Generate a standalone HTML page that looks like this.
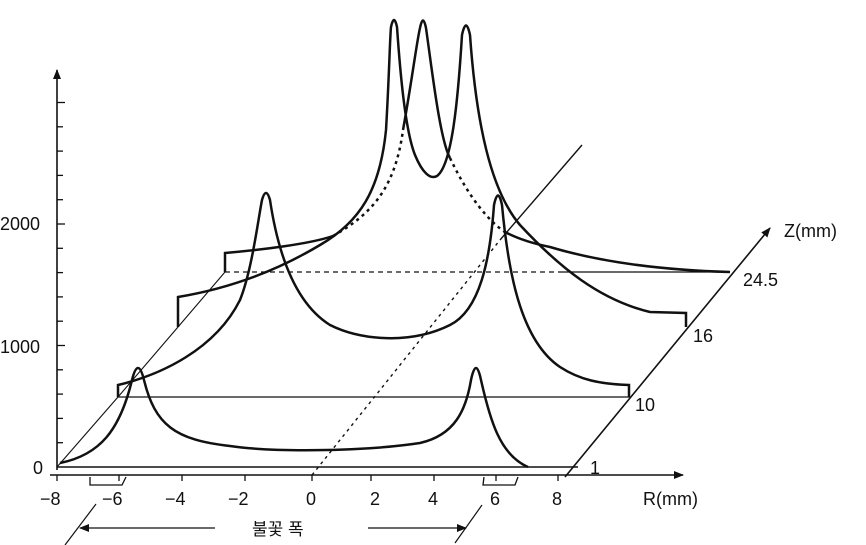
<!DOCTYPE html>
<html><head><meta charset="utf-8"><style>
html,body{margin:0;padding:0;background:#fff;}
svg{display:block;}
text{font-family:"Liberation Sans","Noto Sans CJK KR",sans-serif;fill:#111;}
</style></head><body>
<svg width="866" height="545" viewBox="0 0 866 545" xmlns="http://www.w3.org/2000/svg">
<defs>
<marker id="ar" markerWidth="10" markerHeight="8" refX="9" refY="4" orient="auto" markerUnits="userSpaceOnUse">
<path d="M0,0 L10,4 L0,8 Z" fill="#111"/></marker>
</defs>
<g stroke="#111" fill="none">
<line x1="57" y1="470" x2="57" y2="70" stroke-width="1.6" marker-end="url(#ar)"/>
<g stroke-width="1.3">
<line x1="57" y1="442.7" x2="63" y2="442.7"/><line x1="57" y1="418.4" x2="63" y2="418.4"/>
<line x1="57" y1="394.1" x2="63" y2="394.1"/><line x1="57" y1="369.8" x2="63" y2="369.8"/>
<line x1="57" y1="345.5" x2="65" y2="345.5"/><line x1="57" y1="321.2" x2="63" y2="321.2"/>
<line x1="57" y1="296.9" x2="63" y2="296.9"/><line x1="57" y1="272.6" x2="63" y2="272.6"/>
<line x1="57" y1="248.3" x2="63" y2="248.3"/><line x1="57" y1="224" x2="65" y2="224"/>
<line x1="57" y1="199.7" x2="63" y2="199.7"/><line x1="57" y1="175.4" x2="63" y2="175.4"/>
<line x1="57" y1="151.1" x2="63" y2="151.1"/><line x1="57" y1="126.8" x2="63" y2="126.8"/>
<line x1="57" y1="102.5" x2="65" y2="102.5"/>
</g>
<line x1="50" y1="475" x2="683" y2="475" stroke-width="1.6" marker-end="url(#ar)"/>
<g stroke-width="1.3">
<line x1="57" y1="475" x2="57" y2="481"/><line x1="119" y1="475" x2="119" y2="481"/>
<line x1="182" y1="475" x2="182" y2="481"/><line x1="245" y1="475" x2="245" y2="481"/>
<line x1="312" y1="475" x2="312" y2="481"/><line x1="371" y1="475" x2="371" y2="481"/>
<line x1="434" y1="475" x2="434" y2="481"/><line x1="496" y1="475" x2="496" y2="481"/>
<line x1="558" y1="475" x2="558" y2="481"/>
</g>
<path d="M90,477 L90,485 L122,485 L126,477" stroke-width="1.3"/>
<path d="M484,477 L483,485 L515,485 L518,477" stroke-width="1.3"/>
<line x1="565" y1="477" x2="770" y2="228" stroke-width="1.6" marker-end="url(#ar)"/>
<polyline points="57,467 118,397 178,327 225,272" stroke-width="1.1"/>
<line x1="312" y1="475" x2="500" y2="240" stroke-width="1.4" stroke-dasharray="3,4"/>
<line x1="500" y1="240" x2="582" y2="145" stroke-width="1.4"/>
<line x1="57" y1="467" x2="578" y2="467" stroke-width="1.4"/>
<line x1="118" y1="397" x2="630" y2="397" stroke-width="1.3"/>
<line x1="225" y1="272" x2="560" y2="272" stroke-width="1.3" stroke-dasharray="5,4"/>
<line x1="560" y1="272" x2="730" y2="272" stroke-width="1.3"/>
<path stroke-width="2.5" d="M60,463 C100,455 120,430 132,380 Q138,356 144,380 C155,425 175,440 230,446 C270,452 360,452 420,443 C455,435 466,410 471,380 Q476,356 481,380 C490,420 500,455 528,467"/>
<path stroke-width="2.5" d="M118,397 L118,385 C160,375 215,350 240,300 C252,270 258,220 262,200 Q266,186 270,200 C276,240 290,300 330,325 C360,340 410,345 450,325 C480,310 490,260 494,205 Q498,186 502,205 C508,270 520,340 560,367 C580,380 600,384 629,385 L629,397"/>
<path stroke-width="2.5" d="M178,327 L178,297 C220,290 270,275 320,245 C360,222 380,190 386,130 C389,80 390,35 391,27 Q394,13 397,27 C400,70 405,130 415,155 C422,172 430,180 437,176 C452,165 458,100 462,35 Q466,16 470,35 C476,120 490,190 520,225 C560,268 600,300 650,312 L686,313 L686,327"/>
<path stroke-width="2.5" d="M225,272 L225,253 C260,250 310,244 333,236"/>
<path stroke-width="2.5" stroke-dasharray="3,4" d="M333,236 C370,215 395,190 403,130"/>
<path stroke-width="2.5" d="M403,130 C412,80 417,40 420,28 Q423,13 426,28 C432,70 440,140 450,158"/>
<path stroke-width="2.5" stroke-dasharray="3,4" d="M450,158 C470,200 490,222 505,232"/>
<path stroke-width="2.5" d="M505,232 C520,240 535,244 550,247 C600,262 660,270 730,272"/>
<line x1="65" y1="545" x2="96" y2="504" stroke-width="1.2"/>
<line x1="455" y1="543" x2="482" y2="505" stroke-width="1.2"/>
<line x1="215" y1="528" x2="80" y2="528" stroke-width="1.2" marker-end="url(#ar)"/>
<line x1="368" y1="528" x2="466" y2="528" stroke-width="1.2" marker-end="url(#ar)"/>
</g>
<g font-size="18">
<text x="0" y="230">2000</text>
<text x="0" y="353">1000</text>
<text x="33" y="474">0</text>
<text x="40" y="505">−8</text>
<text x="102" y="505">−6</text>
<text x="165" y="505">−4</text>
<text x="228" y="505">−2</text>
<text x="306" y="505">0</text>
<text x="370" y="505">2</text>
<text x="428" y="505">4</text>
<text x="490" y="505">6</text>
<text x="552" y="505">8</text>
<text x="643" y="505">R(mm)</text>
<text x="784" y="237">Z(mm)</text>
<text x="743" y="286">24.5</text>
<text x="693" y="342">16</text>
<text x="635" y="411">10</text>
<text x="590" y="474">1</text>
<text x="252" y="535" font-size="17">불꽃 폭</text>
</g>
</svg>
</body></html>
